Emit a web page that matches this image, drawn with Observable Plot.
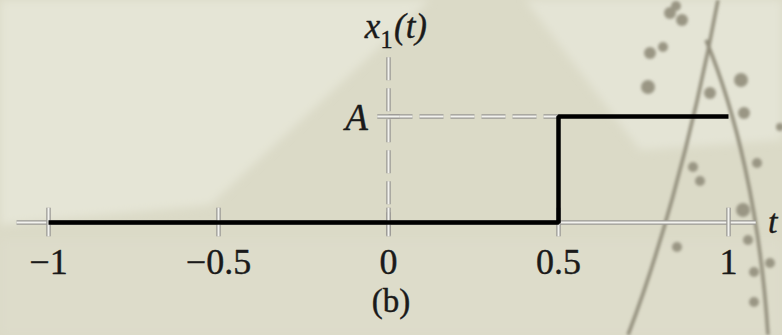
<!DOCTYPE html>
<html>
<head>
<meta charset="utf-8">
<script src="https://cdn.jsdelivr.net/npm/d3@7"></script>
<script src="https://cdn.jsdelivr.net/npm/@observablehq/plot@0.6"></script>
<style>
  html, body { margin: 0; padding: 0; }
  #figure {
    position: relative;
    width: 782px;
    height: 335px;
    overflow: hidden;
    background: #dbdac7;
    font-family: "Liberation Serif", "Times New Roman", serif;
    color: #1a1a1a;
  }
  #paper { position: absolute; left: 0; top: 0; }
  #chart { position: relative; }
  #chart svg text { font-family: "Liberation Serif", "Times New Roman", serif; }
  #caption {
    position: relative;
    text-align: center;
    font-size: 33px;
    line-height: 32px;
    padding-top: 3px;
    -webkit-text-stroke: 0.4px #1a1a1a;
  }
</style>
</head>
<body>
<div id="figure">
  <!-- printed page texture behind the figure -->
  <svg id="paper" width="782" height="335">
    <defs>
      <filter id="wash"><feGaussianBlur stdDeviation="4"/></filter>
      <filter id="soft"><feGaussianBlur stdDeviation="1.4"/></filter>
    </defs>
    <g filter="url(#wash)">
      <polygon points="0,0 430,0 210,205 0,225" fill="#e5e5d6"/>
      <polygon points="525,0 782,0 782,140 640,150" fill="#e4e4d5"/>
      <polygon points="0,240 782,240 782,335 0,335" fill="#dddcca"/>
    </g>
    <g filter="url(#soft)">
      <g fill="none" stroke="#928e7c" stroke-width="3.5">
        <path d="M 628 335 C 655 265, 690 150, 718 0"/>
        <path d="M 706 40 C 735 110, 760 210, 768 335"/>
      </g>
      <g fill="#9a9684">
        <circle cx="650" cy="53" r="6"/><circle cx="648" cy="87" r="7"/>
        <circle cx="663" cy="47" r="5"/><circle cx="670" cy="13" r="6"/>
        <circle cx="682" cy="20" r="6"/><circle cx="676" cy="6" r="5"/>
        <circle cx="710" cy="93" r="6"/>
        <circle cx="741" cy="80" r="7"/><circle cx="744" cy="113" r="6"/>
        <circle cx="757" cy="163" r="5"/><circle cx="693" cy="167" r="5"/>
        <circle cx="700" cy="181" r="5"/><circle cx="743" cy="210" r="7"/>
        <circle cx="748" cy="240" r="5"/><circle cx="770" cy="263" r="5"/>
        <circle cx="754" cy="272" r="5"/><circle cx="754" cy="302" r="5"/>
        <circle cx="677" cy="247" r="5"/><circle cx="780" cy="127" r="4"/>
      </g>
    </g>
  </svg>
  <div id="chart"></div>
  <div id="caption">(b)</div>
</div>
<script>
// Step signal x1(t): zero until t = 0.5, then amplitude A up to t = 1
const stepT = [-1, 0.5, 1];
const stepX = [0, 1, 1];          // in units of A

// Axis ticks and their labels
const tickValues = [-1, -0.5, 0, 0.5, 1];
const tickLabels = ["\u22121", "\u22120.5", "0", "0.5", "1"];
const levelLabel = "A";
const timeLabel = "t";

// Extent of the drawn axes (data units)
const tExtent = [-1.094, 1.08];
const xExtent = [-0.12, 1.56];

const stepData = stepT.map((t, i) => ({t, x: stepX[i]}));

// Light axis lines drawn as a gray outline with a pale core
const outline = "#9a9995";
const core = "#f3f3ef";
function embossed(make, data, opts) {
  return [
    make(data, {...opts, stroke: outline, strokeWidth: 4.5}),
    make(data, {...opts, stroke: core, strokeWidth: 2})
  ];
}

const tAxis = [{x1: tExtent[0], y1: 0, x2: tExtent[1], y2: 0}];
const xAxis = [{x1: 0, y1: xExtent[1], x2: 0, y2: xExtent[0]}];
const levelGuide = [{x1: 0, y1: stepX[1], x2: stepT[1], y2: stepX[1]}];
const levelTick = [{x1: -0.033, y1: stepX[1], x2: 0.033, y2: stepX[1]}];
const segOpts = {x1: "x1", y1: "y1", x2: "x2", y2: "y2"};

const serif = "'Liberation Serif', 'Times New Roman', serif";
const ink = "#1a1a1a";
const type = {fontFamily: serif, fill: ink, stroke: ink, strokeWidth: 0.4};

const plot = Plot.plot({
  width: 782,
  height: 282,
  margin: 0,
  style: {background: "transparent", color: ink, overflow: "visible"},
  x: {domain: [-1, 1], range: [48, 728], axis: null},
  y: {domain: [0, 1], range: [222, 116], axis: null},
  marks: [
    ...embossed(Plot.link, tAxis, segOpts),
    ...embossed(Plot.link, xAxis, {...segOpts, strokeDasharray: "23,8"}),
    ...embossed(Plot.link, levelGuide, {...segOpts, strokeDasharray: "24,7"}),
    ...embossed(Plot.link, levelTick, segOpts),
    ...embossed(Plot.ruleX, tickValues, {x: d => d, y1: () => -0.135, y2: () => 0.135}),
    Plot.line(stepData, {
      x: "t", y: "x", curve: "step-after",
      stroke: "#000", strokeWidth: 4.5, strokeLinejoin: "miter", strokeLinecap: "butt"
    }),
    Plot.text(tickValues, {
      ...type, x: d => d, y: () => 0, text: (d, i) => tickLabels[i],
      dy: 40, fontSize: 36
    }),
    Plot.text([timeLabel], {
      ...type, x: () => tExtent[1], y: () => 0, text: d => d,
      dx: 17, dy: 0, fontSize: 34, fontStyle: "italic"
    }),
    Plot.text([levelLabel], {
      ...type, x: () => 0, y: () => stepX[1], text: d => d,
      dx: -32, dy: 2, fontSize: 37, fontStyle: "italic"
    }),
    // vertical-axis title x₁(t), set in pieces to get a real subscript
    Plot.text(["x"], {
      ...type, x: () => 0, y: () => xExtent[1], text: d => d,
      dx: -16, dy: -30, fontSize: 35, fontStyle: "italic"
    }),
    Plot.text(["1"], {
      ...type, x: () => 0, y: () => xExtent[1], text: d => d,
      dx: -2, dy: -17, fontSize: 25, strokeWidth: 0.3
    }),
    Plot.text(["(t)"], {
      ...type, x: () => 0, y: () => xExtent[1], text: d => d,
      dx: 22, dy: -30, fontSize: 35, fontStyle: "italic"
    })
  ]
});

document.getElementById("chart").appendChild(plot);
</script>
</body>
</html>
